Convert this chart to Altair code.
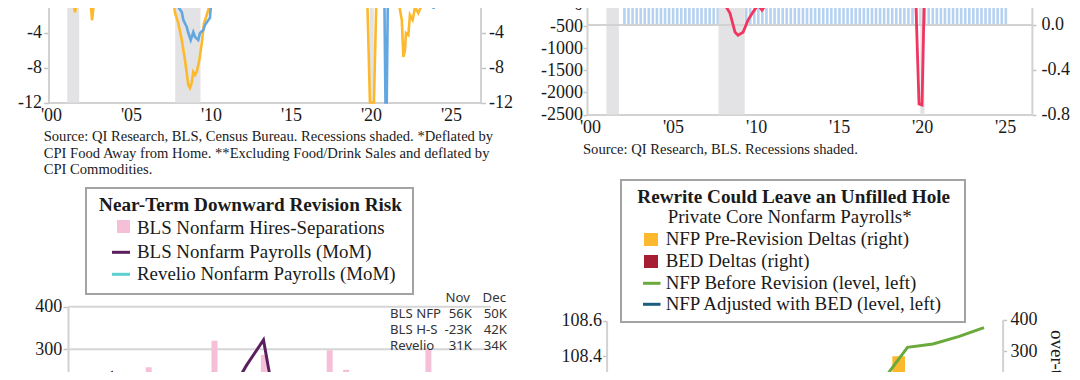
import altair as alt
import pandas as pd

# ---------------- data ----------------
recession_start = [2001.17, 2007.92, 2020.08]
recession_end = [2001.92, 2009.50, 2020.33]
x_year_ticks = [2000, 2005, 2010, 2015, 2020, 2025]

# Top-left panel (% y/y), orange and blue series
tl_orange_year = [2000.00, 2000.75, 2000.88, 2001.10, 2001.35, 2001.66, 2001.85, 2002.55, 2002.72, 2002.90,
                  2003.50, 2004.50, 2005.55, 2005.66, 2005.78, 2006.40, 2006.53, 2006.65, 2007.50, 2007.80,
                  2007.91, 2008.11, 2008.33, 2008.53, 2008.74, 2008.84, 2008.95, 2009.05, 2009.16, 2009.26,
                  2009.43, 2009.58, 2009.72, 2009.89, 2009.99, 2010.09, 2010.35, 2012.00, 2015.00, 2018.00,
                  2019.90, 2020.09, 2020.34, 2020.52, 2021.30, 2021.70, 2021.86, 2022.08, 2022.18, 2022.28,
                  2022.34, 2022.49, 2022.59, 2022.76, 2022.91, 2023.11, 2023.33, 2023.43, 2023.70, 2023.96,
                  2024.03, 2024.12, 2025.00, 2025.75]
tl_orange_val = [1.8, 1.2, -0.6, -0.5, 0.9, -1.7, 0.6, 1.2, -2.6, 0.4,
                 1.5, 2.0, 1.2, -0.7, 0.9, 1.1, -0.5, 1.0, 0.8, -0.3,
                 -1.77, -2.91, -4.86, -7.14, -10.0, -10.34, -9.77, -8.51, -8.86, -8.51,
                 -7.14, -5.2, -2.91, -2.0, -1.43, -0.29, 1.4, 2.5, 2.2, 2.0,
                 1.5, -25.0, -25.0, 2.0, 3.0, 0.8, -0.3, -2.57, -6.8, -6.0,
                 -4.06, -4.3, -2.0, -2.57, -1.09, -1.77, -0.86, -0.29, 0.9, 0.3,
                 -0.5, 0.8, 1.0, 0.9]
tl_blue_year = [2000.00, 2007.50, 2007.91, 2008.11, 2008.33, 2008.43, 2008.64, 2008.74, 2008.89, 2009.05,
                2009.16, 2009.36, 2009.47, 2009.68, 2009.78, 2009.99, 2010.09, 2010.25, 2014.00, 2018.00,
                2020.98, 2021.06, 2021.14, 2021.22, 2023.50, 2023.98, 2024.03, 2024.07, 2024.12, 2025.75]
tl_blue_val = [2.5, 1.5, -0.29, -1.09, -1.66, -2.57, -3.37, -4.06, -4.86, -3.94,
               -4.51, -4.86, -4.06, -3.71, -3.14, -2.57, -2.34, 1.5, 2.5, 2.0,
               2.0, -25.0, -25.0, 2.0, 1.5, 1.0, -0.5, -1.3, 1.0, 1.0]

# Top-right panel: line (left axis) and bars (right axis)
tr_line_year = [2000.0, 2001.3, 2003.0, 2005.5, 2007.3, 2008.0, 2008.31, 2008.61, 2008.92, 2009.10,
                2009.40, 2009.70, 2010.00, 2010.30, 2010.54, 2010.84, 2011.20, 2011.45, 2013.0, 2016.0,
                2019.0, 2019.80, 2020.00, 2020.18, 2020.39, 2020.8, 2021.5, 2022.5, 2023.5, 2024.5, 2025.6]
tr_line_val = [150, 110, 180, 220, 140, 40, -20, -205, -640, -705,
               -640, -365, -183, -23, -137, 23, 46, 120, 200, 210,
               170, 150, -2260, -2285, 1500, 700, 500, 350, 230, 150, 80]
tr_bar_val = [0.42, 0.45, 0.48, 0.50, 0.52, 0.55, 0.53, 0.50, 0.48, 0.52, 0.55, 0.58,
              0.60, 0.57, 0.55, 0.52, 0.50, 0.47, 0.45, 0.42, 0.40, 0.38, 0.35, 0.33,
              0.30, 0.28, 0.25, 0.22, 0.20, 0.22, 0.25, 0.30, 0.35, 0.40, 0.45, 0.48,
              0.50, 0.52, 0.55, 0.57, 0.58, 0.60, 0.62, 0.60, 0.58, 0.57, 0.55, 0.56,
              0.58, 0.60, 0.62, 0.63, 0.61, 0.60, 0.58, 0.56, 0.55, 0.54, 0.52, 0.53,
              0.55, 0.56, 0.57, 0.58, 0.56, 0.55, 0.54, 0.53, 0.52, 0.50, 0.48, 0.47,
              0.30, 0.25, 0.35, 0.45, 0.55, 0.62, 0.68, 0.70, 0.66, 0.62, 0.58, 0.55,
              0.52, 0.50, 0.48, 0.46, 0.45, 0.44, 0.42, 0.40, 0.38, 0.37, 0.36]
tr_bar_year = [2002 + q / 4 for q in range(len(tr_bar_val))]

# Bottom-left panel (thousands, MoM), 25 months ending Dec
bl_month = list(range(25))
bl_hires_sep = [120, 60, 150, 90, 258, 140, 200, 40, 320, 110, 170, 287, 80,
                190, -30, 298, 252, 100, 60, 210, 150, 300, 90, -23, 42]
bl_nfp = [180, 215, 245, 150, 120, 190, 100, 181, 242, 195, 263, 322, 100,
          150, 70, 120, 20, 140, 90, 160, 30, 80, 60, 56, 50]
bl_revelio = [100, 80, 120, 60, 140, 90, 70, 110, 50, 130, 100, 150, 40,
              90, 60, 80, 30, 70, 50, 90, 20, 60, 40, 31, 34]
bl_cols = ["Nov", "Dec"]
bl_rows = ["BLS NFP", "BLS H-S", "Revelio"]

# Bottom-right panel
br_month = list(range(15))
br_nfp_level = [107.62, 107.70, 107.76, 107.83, 107.88, 107.95, 108.00, 108.06,
                108.12, 108.18, 108.255, 108.449, 108.468, 108.510, 108.561]
br_bed_level = [107.60, 107.66, 107.70, 107.75, 107.78, 107.82, 107.86, 107.89,
                107.93, 107.97, 108.00, 108.05, 108.08, 108.12, 108.16]
br_pre_delta = [120, 90, 150, 60, 110, 80, 140, 70, 100, 130, 95, 283, 60, 85, 45]
br_bed_delta = [100, 70, 120, 40, 90, 60, 110, 50, 80, 100, 70, 150, 40, 60, 30]

# ---------------- layout / style ----------------
SERIF = "Liberation Serif"
SANS = "Noto Sans"
W, H = 1064, 364
ORANGE, BLUE = "#fdb92e", "#63a7e1"
RED_LINE, BAR_BLUE, REC = "#ef3560", "#b5d2f1", "#e3e3e6"
PINK, PURPLE, TEAL = "#f5bfd7", "#5b1f5f", "#5ccfd0"
D_ORANGE, D_RED, D_GREEN, D_BLUE = "#fdb92e", "#a71d31", "#6aaa3c", "#1d5d80"

A_X = dict(domain=[2000, 2027], range=[40.5, 472.5])
A_Y = dict(domain=[-12, 5], range=[94.5, -54.25])
B_X = dict(domain=[2000, 2026.8], range=[579, 1023.9])
B_YL = dict(domain=[-2500, 2000], range=[106.5, -92.4])
B_YR = dict(domain=[-0.8, 1.0], range=[106.5, -94.9])
C_X = dict(domain=[-0.6, 24.5], range=[60, 483])
C_Y = dict(domain=[-200, 400], range=[554.6, 298.7])
D_X = dict(domain=[-0.8, 14.73], range=[598.6, 994.6])
D_YL = dict(domain=[107.5, 108.6], range=[506.9, 312.7])
D_YR = dict(domain=[-100, 400], range=[469, 311.5])

INT_LABEL = "(datum.value < 0 ? '-' : '') + format(abs(datum.value), 'd')"
DEC_LABEL = "(datum.value < 0 ? '-' : '') + format(abs(datum.value), '.1f')"
YEAR_LABEL = "\"'\" + substring(toString(datum.value), 2, 4)"


def sc(s):
    return alt.Scale(domain=s["domain"], range=s["range"], clamp=True, nice=False)


def ax(orient, offset, values, **kw):
    base = dict(orient=orient, offset=offset, values=values, title=None, grid=False,
                domainColor="#d2d2d2", domainWidth=2, tickColor="#c4c4c4", tickWidth=1.5,
                labelFont=SERIF, labelFontSize=18, labelColor="#1a1a1a",
                labelFlush=False, labelOverlap=False)
    base.update(kw)
    return alt.Axis(**base)


def txt(s, x, y, size, font=SERIF, weight="normal", align="left", color="#1a1a1a", angle=None):
    kw = dict(align=align, baseline="middle", font=font, fontSize=size, fontWeight=weight, color=color)
    if angle:
        kw["angle"] = angle
    return alt.Chart(pd.DataFrame({"t": [s]})).mark_text(**kw).encode(
        x=alt.value(x), y=alt.value(y), text="t:N")


def box(x1, x2, y1, y2, fill, stroke=None, sw=0):
    kw = dict(fill=fill)
    if stroke:
        kw.update(stroke=stroke, strokeWidth=sw)
    return alt.Chart(pd.DataFrame({"k": [0]})).mark_rect(**kw).encode(
        x=alt.value(x1), x2=alt.value(x2), y=alt.value(y1), y2=alt.value(y2))


rec_df = pd.DataFrame({"s": recession_start, "e": recession_end})
layers = []

# ---- Panel A (top-left)
layers.append(alt.Chart(rec_df).mark_rect(color=REC).encode(
    x=alt.X("s:Q", scale=sc(A_X), axis=None), x2="e:Q", y=alt.value(0), y2=alt.value(94.5)))
layers.append(alt.Chart(pd.DataFrame({"year": tl_orange_year, "v": tl_orange_val})).mark_line(
    color=ORANGE, strokeWidth=2.6).encode(
    x=alt.X("year:Q", scale=sc(A_X), axis=ax("bottom", 94.5 - H, x_year_ticks, ticks=False,
                                                labelPadding=4, labelOffset=2.5, labelExpr=YEAR_LABEL)),
    y=alt.Y("v:Q", scale=sc(A_Y), axis=ax("left", -40.5, [-12, -8, -4], tickSize=5, labelPadding=2,
                                           labelExpr=INT_LABEL))))
layers.append(alt.Chart(pd.DataFrame({"year": tl_blue_year, "v": tl_blue_val})).mark_line(
    color=BLUE, strokeWidth=2.6).encode(
    x=alt.X("year:Q", scale=sc(A_X), axis=None), y=alt.Y("v:Q", scale=sc(A_Y), axis=None)))
layers.append(alt.Chart(pd.DataFrame({"year": [2000], "v": [-12]})).mark_point(opacity=0).encode(
    x=alt.X("year:Q", scale=sc(A_X), axis=None),
    y=alt.Y("v:Q", scale=sc(A_Y), axis=ax("right", 472.5 - W, [-12, -8, -4], tickSize=5, labelPadding=3,
                                           labelExpr=INT_LABEL))))

# ---- Panel B (top-right)
layers.append(alt.Chart(pd.DataFrame({"year": tr_bar_year, "v": tr_bar_val})).mark_bar(
    color=BAR_BLUE, size=2.6).encode(
    x=alt.X("year:Q", scale=sc(B_X), axis=None),
    y=alt.Y("v:Q", scale=sc(B_YR), axis=ax("right", 1023.9 - W, [-0.8, -0.4, 0.0],
                                            labelExpr=DEC_LABEL, tickSize=4, labelPadding=5))))
layers.append(alt.Chart(rec_df).mark_rect(color=REC).encode(
    x=alt.X("s:Q", scale=sc(B_X), axis=None), x2="e:Q", y=alt.value(0), y2=alt.value(106.5)))
layers.append(alt.Chart(pd.DataFrame({"v": [0.0]})).mark_rule(color="#d2d2d2", strokeWidth=2).encode(
    y=alt.Y("v:Q", scale=sc(B_YR), axis=None), x=alt.value(579), x2=alt.value(1024)))
layers.append(alt.Chart(pd.DataFrame({"year": tr_line_year, "v": tr_line_val})).mark_line(
    color=RED_LINE, strokeWidth=2.8).encode(
    x=alt.X("year:Q", scale=sc(B_X), axis=ax("bottom", 106.5 - H, x_year_ticks, ticks=False,
                                                labelPadding=4, labelOffset=3, labelExpr=YEAR_LABEL)),
    y=alt.Y("v:Q", scale=sc(B_YL), axis=ax("left", -579, [-2500, -2000, -1500, -1000, -500, 0],
                                            labelExpr=INT_LABEL, tickSize=4, labelPadding=0.5))))

# ---- Panel C (bottom-left)
layers.append(alt.Chart(pd.DataFrame({"v": [300, 400]})).mark_rule(color="#d6d6d6", strokeWidth=2).encode(
    y=alt.Y("v:Q", scale=sc(C_Y), axis=None), x=alt.value(60), x2=alt.value(483)))
layers.append(alt.Chart(pd.DataFrame({"m": bl_month, "v": bl_hires_sep})).mark_bar(
    color=PINK, size=6).encode(
    x=alt.X("m:Q", scale=sc(C_X), axis=None),
    y=alt.Y("v:Q", scale=sc(C_Y), axis=ax("left", -60, [300, 400], labelExpr=INT_LABEL,
                                           tickSize=5, labelPadding=1.3))))
layers.append(alt.Chart(pd.DataFrame({"m": bl_month, "v": bl_revelio})).mark_line(
    color=TEAL, strokeWidth=2.6).encode(
    x=alt.X("m:Q", scale=sc(C_X), axis=None), y=alt.Y("v:Q", scale=sc(C_Y), axis=None)))
layers.append(alt.Chart(pd.DataFrame({"m": bl_month, "v": bl_nfp})).mark_line(
    color=PURPLE, strokeWidth=3).encode(
    x=alt.X("m:Q", scale=sc(C_X), axis=None), y=alt.Y("v:Q", scale=sc(C_Y), axis=None)))

# ---- Panel D (bottom-right)
layers.append(alt.Chart(pd.DataFrame({"m": br_month, "v": br_pre_delta})).transform_calculate(
    xm="datum.m - 0.25").mark_bar(color=D_ORANGE, size=12.7).encode(
    x=alt.X("xm:Q", scale=sc(D_X), axis=None),
    y=alt.Y("v:Q", scale=sc(D_YR), axis=ax("right", 994.6 - W, [300, 400],
                                            labelExpr=INT_LABEL, tickSize=4, labelPadding=3.5))))
layers.append(alt.Chart(pd.DataFrame({"m": br_month, "v": br_bed_delta})).transform_calculate(
    xm="datum.m + 0.25").mark_bar(color=D_RED, size=12.7).encode(
    x=alt.X("xm:Q", scale=sc(D_X), axis=None), y=alt.Y("v:Q", scale=sc(D_YR), axis=None)))
layers.append(alt.Chart(pd.DataFrame({"m": br_month, "v": br_bed_level})).mark_line(
    color=D_BLUE, strokeWidth=3).encode(
    x=alt.X("m:Q", scale=sc(D_X), axis=None), y=alt.Y("v:Q", scale=sc(D_YL), axis=None)))
layers.append(alt.Chart(pd.DataFrame({"m": br_month, "v": br_nfp_level})).mark_line(
    color=D_GREEN, strokeWidth=3).encode(
    x=alt.X("m:Q", scale=sc(D_X), axis=None),
    y=alt.Y("v:Q", scale=sc(D_YL), axis=ax("left", -598.6, [108.4, 108.6],
                                            labelExpr=DEC_LABEL, tickSize=4, labelPadding=1))))
layers.append(txt("over-the-month", 1049, 322, 19, angle=90))

# ---- source notes
layers += [
    txt("Source: QI Research, BLS, Census Bureau. Recessions shaded. *Deflated by", 35.7, 129.3, 14.6),
    txt("CPI Food Away from Home. **Excluding Food/Drink Sales and deflated by", 35.7, 146, 14.6),
    txt("CPI Commodities.", 35.7, 162, 14.6),
    txt("Source: QI Research, BLS. Recessions shaded.", 575, 142, 14.6),
]

# ---- bottom-left legend box
layers += [
    box(78, 405, 180, 286, "white", "#a3a3a3", 2),
    txt("Near-Term Downward Revision Risk", 242.5, 197, 19.2, weight="bold", align="center"),
    box(109, 122, 212, 225, PINK),
    txt("BLS Nonfarm Hires-Separations", 129, 219.7, 18.9),
    box(104, 122, 242.8, 245.8, PURPLE),
    txt("BLS Nonfarm Payrolls (MoM)", 129, 244.3, 18.9),
    box(104, 122, 264.8, 267.8, TEAL),
    txt("Revelio Nonfarm Payrolls (MoM)", 129, 266.3, 18.9),
]

# ---- bottom-left value table (from data)
layers += [txt(bl_cols[0], 462, 290.3, 13.2, font=SANS, align="right", color="#333333"),
           txt(bl_cols[1], 498, 290.3, 13.2, font=SANS, align="right", color="#333333")]
for lab, series, yy in zip(bl_rows, [bl_nfp, bl_hires_sep, bl_revelio], [305.5, 321.5, 337.5]):
    layers += [txt(lab, 382, yy, 13.2, font=SANS, color="#333333"),
               txt(f"{series[-2]}K", 464, yy, 13.2, font=SANS, align="right", color="#333333"),
               txt(f"{series[-1]}K", 499, yy, 13.2, font=SANS, align="right", color="#333333")]

# ---- bottom-right legend box
layers += [
    box(613, 957, 172, 314, "white", "#a3a3a3", 2),
    txt("Rewrite Could Leave an Unfilled Hole", 785.7, 188.7, 19.2, weight="bold", align="center"),
    txt("Private Core Nonfarm Payrolls*", 781.7, 208.7, 18.9, align="center"),
    box(636, 650, 225, 238, D_ORANGE),
    txt("NFP Pre-Revision Deltas (right)", 657.7, 231.3, 18.9),
    box(636, 650, 247, 260, D_RED),
    txt("BED Deltas (right)", 657.7, 253, 18.9),
    box(635, 652.5, 273.8, 276.8, D_GREEN),
    txt("NFP Before Revision (level, left)", 657.7, 275.3, 18.9),
    box(635, 652.5, 294.8, 297.8, D_BLUE),
    txt("NFP Adjusted with BED (level, left)", 657.7, 296.3, 18.9),
]

chart = alt.layer(*layers).resolve_scale(x="independent", y="independent").properties(
    width=W, height=H, padding=0, background="white",
    autosize=alt.AutoSizeParams(type="none")).configure_view(strokeWidth=0)

chart.save("out.html", embed_options={"renderer": "svg", "actions": False})
